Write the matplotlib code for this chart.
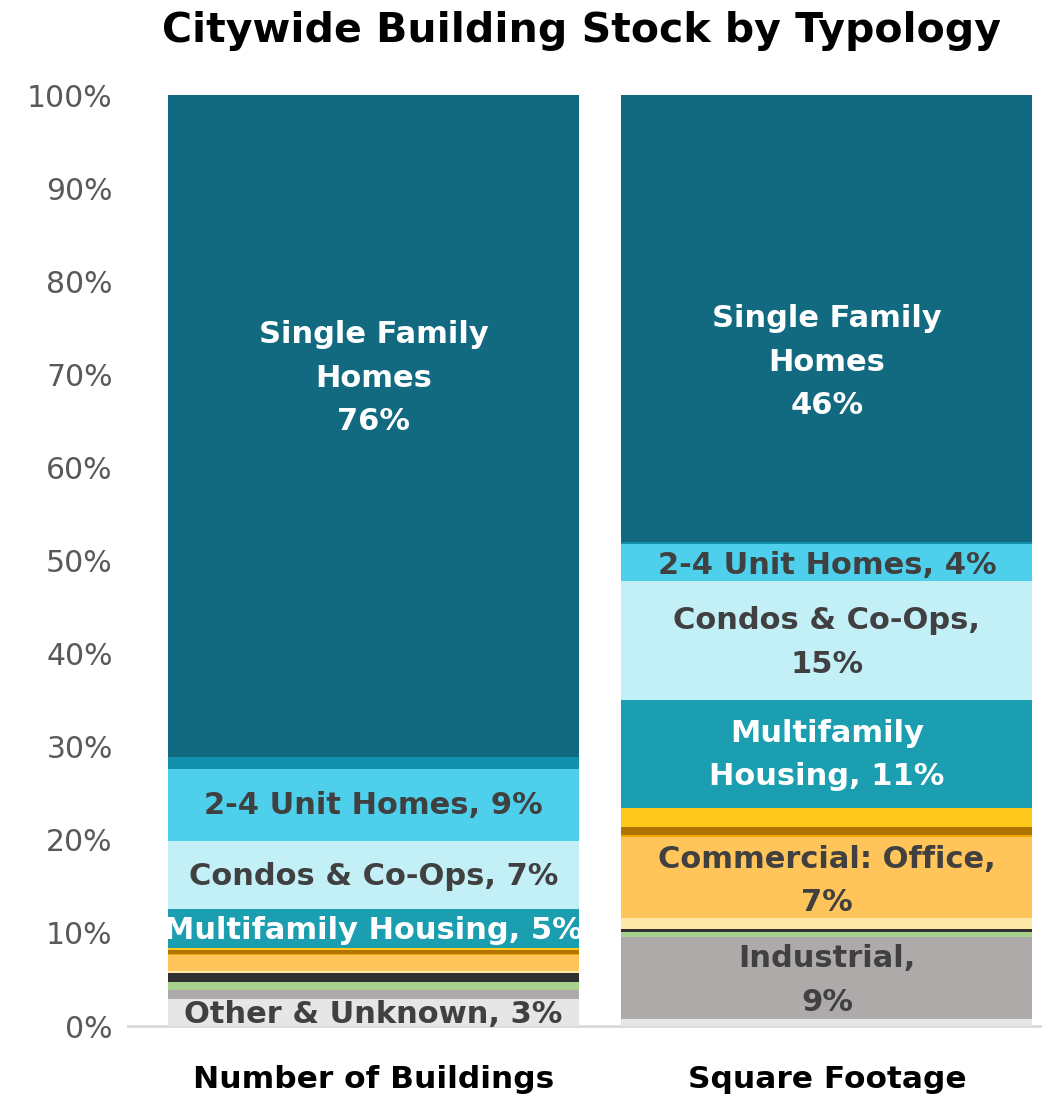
"""Citywide building stock by typology: 100% stacked bars."""

import matplotlib

matplotlib.use("Agg")
import matplotlib.pyplot as plt
import numpy as np

plt.rcParams["font.family"] = ["DejaVu Sans"]

BARS = ["Number of Buildings", "Square Footage"]

# segments, bottom to top
SEGMENTS = [
    "Other & Unknown",
    "Industrial",
    "Institutional",
    "Mixed Use",
    "Commercial: Other",
    "Commercial: Office",
    "Commercial: Retail",
    "Commercial: Food",
    "Commercial: Hotel",
    "Multifamily Housing",
    "Condos & Co-Ops",
    "2-4 Unit Homes",
    "Mixed Residential",
    "Single Family Homes",
]
BUILDINGS = [2.9, 1.0, 0.8, 1.0, 0.25, 1.7, 0.1, 0.4, 0.2, 4.2, 7.3, 7.8, 1.2, 71.15]
SQUARE_FEET = [0.7, 8.9, 0.5, 0.35, 1.1, 8.7, 0.25, 0.9, 2.0, 11.6, 12.8, 4.0, 0.2, 48.0]
COLORS = [
    "#e7e6e6", "#aeaaaa", "#a9d18e", "#303030", "#ffe9a8", "#ffc55a", "#f5a800",
    "#b07400", "#ffc91c", "#1b9eb0", "#c3eff7", "#4ecfeb", "#128fab", "#116a80",
]

# in-bar annotations: (bar, y in %, text, color)
DARK = "#404040"
LABELS = [
    (0, 69.6, "Single Family\nHomes\n76%", "white"),
    (0, 23.7, "2-4 Unit Homes, 9%", DARK),
    (0, 16.1, "Condos & Co-Ops, 7%", DARK),
    (0, 10.3, "Multifamily Housing, 5%", "white"),
    (0, 1.2, "Other & Unknown, 3%", DARK),
    (1, 71.3, "Single Family\nHomes\n46%", "white"),
    (1, 49.5, "2-4 Unit Homes, 4%", DARK),
    (1, 41.2, "Condos & Co-Ops,\n15%", DARK),
    (1, 29.1, "Multifamily\nHousing, 11%", "white"),
    (1, 15.6, "Commercial: Office,\n7%", DARK),
    (1, 4.9, "Industrial,\n9%", DARK),
]


def main() -> None:
    fig = plt.figure(figsize=(10.48, 10.95), dpi=100)
    ax = fig.add_axes([0.1221, 0.063, 0.8702, 0.8502])

    x = np.arange(len(BARS))
    data = np.array([BUILDINGS, SQUARE_FEET])
    bottom = np.zeros(len(BARS))
    for i, name in enumerate(SEGMENTS):
        ax.bar(x, data[:, i], bottom=bottom, width=0.907, color=COLORS[i], label=name, zorder=2)
        bottom += data[:, i]

    for bar, y, text, color in LABELS:
        ax.text(bar, y, text, ha="center", va="center", color=color, fontsize=22,
                fontweight="bold", linespacing=1.62, zorder=3)

    ax.set_xlim(-0.542, 1.47)
    ax.set_ylim(0, 100)
    ax.set_yticks(np.arange(0, 101, 10))
    ax.set_yticklabels([f"{v}%" for v in range(0, 101, 10)], fontsize=21.5, color="#595959")
    ax.set_xticks(x)
    ax.set_xticklabels(BARS, fontsize=22.5, fontweight="bold", color="black")
    ax.tick_params(axis="both", length=0)
    ax.tick_params(axis="y", pad=11)
    ax.tick_params(axis="x", pad=28)
    for side in ("top", "right", "left"):
        ax.spines[side].set_visible(False)
    ax.spines["bottom"].set_color("#d9d9d9")
    ax.spines["bottom"].set_linewidth(2)
    ax.spines["bottom"].set_zorder(1)

    fig.text(0.555, 0.972, "Citywide Building Stock by Typology", ha="center", va="center",
             fontsize=29.5, fontweight="bold", color="black")

    fig.savefig("out.png", dpi=100)


if __name__ == "__main__":
    main()
